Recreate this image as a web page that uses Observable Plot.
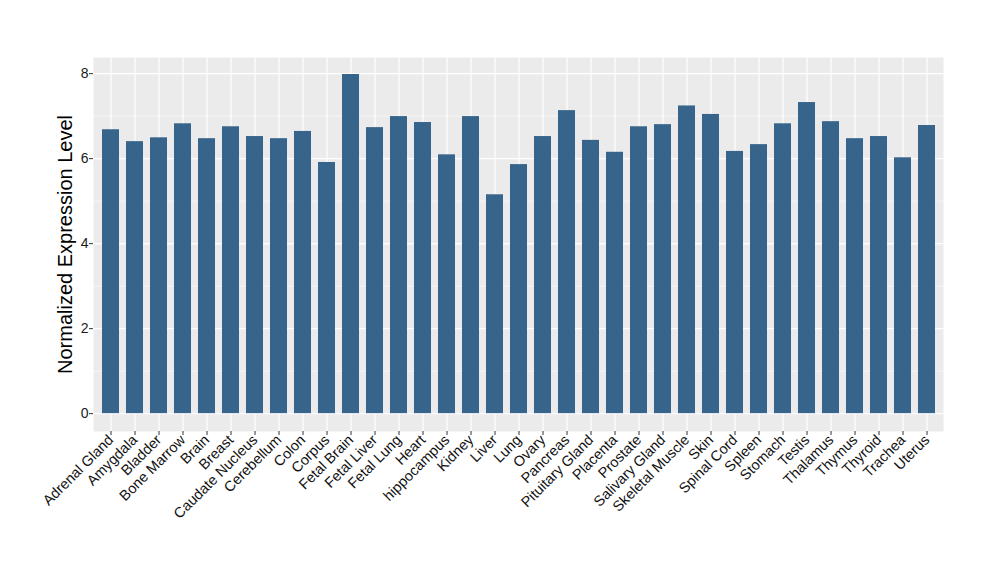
<!DOCTYPE html>
<html>
<head>
<meta charset="utf-8">
<script src="https://cdn.jsdelivr.net/npm/d3@7"></script>
<script src="https://cdn.jsdelivr.net/npm/@observablehq/plot@0.6"></script>
<style>
  html, body { margin: 0; padding: 0; background: #ffffff; }
  #chart svg { display: block; font-family: "Liberation Sans", Arial, sans-serif; }
</style>
</head>
<body>
<div id="chart"></div>
<script>
const categories = ["Adrenal Gland","Amygdala","Bladder","Bone Marrow","Brain","Breast","Caudate Nucleus","Cerebellum","Colon","Corpus","Fetal Brain","Fetal Liver","Fetal Lung","Heart","hippocampus","Kidney","Liver","Lung","Ovary","Pancreas","Pituitary Gland","Placenta","Prostate","Salivary Gland","Skeletal Muscle","Skin","Spinal Cord","Spleen","Stomach","Testis","Thalamus","Thymus","Thyroid","Trachea","Uterus"];
const values = [6.68,6.40,6.49,6.82,6.47,6.75,6.52,6.47,6.64,5.91,7.98,6.73,6.99,6.85,6.09,6.99,5.15,5.86,6.52,7.13,6.43,6.15,6.75,6.80,7.24,7.04,6.17,6.33,6.82,7.32,6.87,6.47,6.52,6.02,6.78];
const yTicks = [0,2,4,6,8];
const yMinor = [1,3,5,7];
const yTitle = "Normalized Expression Level";

const data = categories.map((c, i) => ({tissue: c, value: values[i]}));

const chart = Plot.plot({
  width: 1000,
  height: 580,
  marginLeft: 93,
  marginRight: 57,
  marginTop: 57,
  marginBottom: 149,
  style: {fontFamily: "Liberation Sans, Arial, sans-serif", background: "#ffffff"},
  x: {domain: categories, paddingInner: 0.3, paddingOuter: 0.25},
  y: {domain: [-0.42, 8.38]},
  marks: [
    Plot.frame({fill: "#EBEBEB", stroke: null}),
    Plot.ruleY(yMinor, {stroke: "#ffffff", strokeWidth: 0.6}),
    Plot.ruleY(yTicks, {stroke: "#ffffff", strokeWidth: 1.2}),
    Plot.ruleX(categories, {x: d => d, stroke: "#ffffff", strokeWidth: 1.2}),
    Plot.barY(data, {x: "tissue", y: "value", fill: "#36648B"}),
    Plot.axisY({ticks: yTicks, tickSize: 4, tickPadding: 1, fontSize: 14, fill: "#1a1a1a", stroke: "#333333", label: null}),
    Plot.axisX({tickRotate: -45, tickSize: 4, tickPadding: 2, fontSize: 14.5, fill: "#111111", stroke: "#333333", label: null}),
    Plot.text([yTitle], {frameAnchor: "left", dx: -28, rotate: -90, textAnchor: "middle", fontSize: 20, fill: "#000000", text: d => d})
  ]
});
document.getElementById("chart").appendChild(chart);
</script>
</body>
</html>
